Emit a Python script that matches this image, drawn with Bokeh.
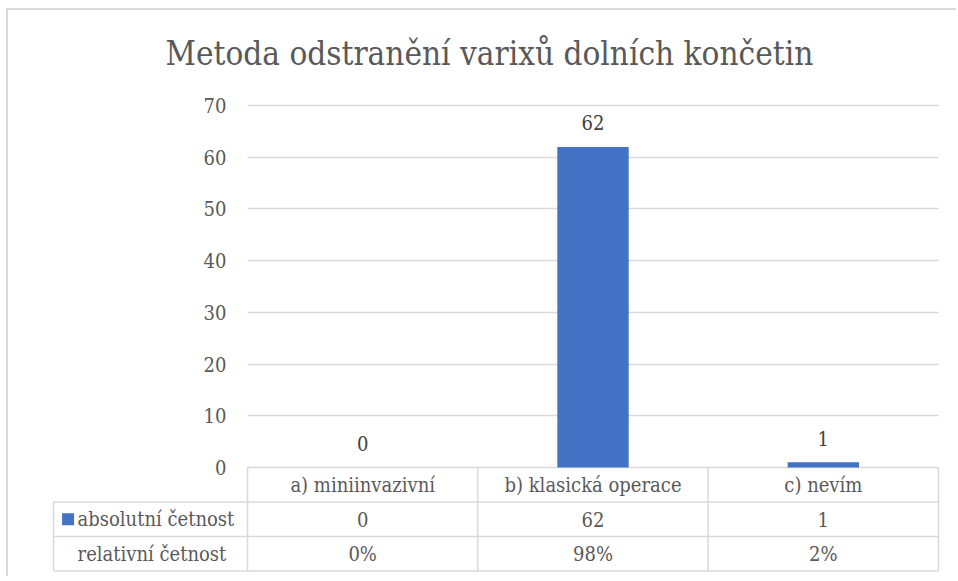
import numpy as np
from bokeh.plotting import figure
from bokeh.models import FixedTicker, Range1d
from bokeh.core.properties import value
from bokeh.embed import file_html
from bokeh.resources import INLINE

# ---------------- data ----------------
title_text = "Metoda odstranění varixů dolních končetin"
categories = ["a) miniinvazivní", "b) klasická operace", "c) nevím"]
absolute = [0, 62, 1]
relative = ["0%", "98%", "2%"]
row_labels = ["absolutní četnost", "relativní četnost"]
y_ticks = [0, 10, 20, 30, 40, 50, 60, 70]

# ---------------- style ----------------
FONT = "DejaVu Serif Condensed"
GREY = "#595959"
DARK = "#404040"
BLUE = "#4472C4"
LINE = "#D9D9D9"
FS = "20px"

n = len(categories)
centers = np.arange(n) + 0.5
row_h = 6.67          # table row height in y units
label_left = -0.842   # left edge of the table's label column (x units)

p = figure(width=950, height=568, output_backend="svg", toolbar_location=None,
           x_range=Range1d(-0.851, 3.0087), y_range=Range1d(-20.31, 72.92),
           x_axis_location=None, min_border_left=43, min_border_right=18,
           min_border_top=80, min_border_bottom=6)
p.styles = {"margin-left": "6px", "margin-top": "8px",
            "border-left": "2px solid #D9D9D9", "border-top": "2px solid #D9D9D9",
            "border-right": "none", "border-bottom": "none"}
p.outline_line_color = None
p.background_fill_color = "white"
p.border_fill_color = "white"

# title
p.title.text = title_text
p.title.align = "left"
p.title.offset = 114
p.title.text_font = FONT
p.title.text_font_size = "33px"
p.title.text_font_style = "normal"
p.title.text_color = GREY
p.title.standoff = 36

# grid
p.xgrid.visible = False
p.ygrid.ticker = FixedTicker(ticks=y_ticks)
p.ygrid.cross_bounds = (0, n)
p.ygrid.grid_line_color = LINE
p.ygrid.grid_line_width = 1.5

# y axis placed at x = 0
yax = p.yaxis[0]
yax.fixed_location = 0
yax.ticker = FixedTicker(ticks=y_ticks)
yax.axis_line_color = None
yax.major_tick_line_color = None
yax.minor_tick_line_color = None
yax.major_label_standoff = 15
yax.major_label_text_font = FONT
yax.major_label_text_font_size = FS
yax.major_label_text_color = GREY

# bars
p.vbar(x=centers, top=absolute, width=0.31, color=BLUE, line_color=None)

# data labels
p.text(x=centers, y=absolute, text=[str(v) for v in absolute], text_align="center",
       text_baseline="alphabetic", y_offset=-24, text_font=value(FONT),
       text_font_size=FS, text_color=DARK)

# table grid lines
vx0 = list(np.arange(n + 1).astype(float)) + [label_left]
vy0 = [0.0] * (n + 1) + [-row_h]
vy1 = [-3 * row_h] * (n + 2)
p.segment(x0=vx0, y0=vy0, x1=vx0, y1=vy1, line_color=LINE, line_width=1.5)
hy = [-row_h, -2 * row_h, -3 * row_h]
p.segment(x0=[label_left] * 3, y0=hy, x1=[n] * 3, y1=hy, line_color=LINE, line_width=1.5)

# table header
p.text(x=centers, y=[-0.5 * row_h] * n, text=categories, text_align="center",
       text_baseline="middle", text_font=value(FONT), text_font_size=FS, text_color=GREY)
# table rows
p.text(x=centers, y=[-1.5 * row_h] * n, text=[str(v) for v in absolute], text_align="center",
       text_baseline="middle", text_font=value(FONT), text_font_size=FS, text_color=GREY)
p.text(x=centers, y=[-2.5 * row_h] * n, text=relative, text_align="center",
       text_baseline="middle", text_font=value(FONT), text_font_size=FS, text_color=GREY)
# row labels
p.text(x=[-0.738, -0.738], y=[-1.5 * row_h, -2.5 * row_h], text=row_labels, text_align="left",
       text_baseline="middle", text_font=value(FONT), text_font_size=FS, text_color=GREY)
# legend key
p.scatter(x=[-0.779], y=[-1.5 * row_h], marker="square", size=12, color=BLUE, line_color=None)

open("out.html", "w").write(file_html(p, INLINE))
